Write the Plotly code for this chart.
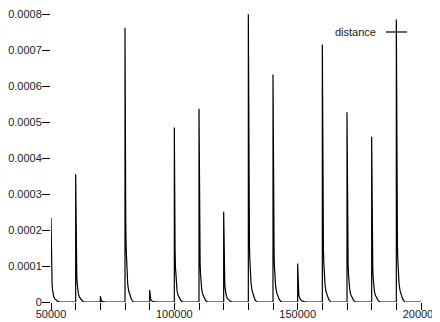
import plotly.graph_objects as go

# Spike positions and peak heights
spike_x = [50000, 60000, 70000, 80000, 90000, 100000, 110000, 120000,
           130000, 140000, 150000, 160000, 170000, 180000, 190000]
spike_peak = [0.000233, 0.000355, 0.000016, 0.000762, 0.000033, 0.000485,
              0.000537, 0.000251, 0.000799, 0.000632, 0.000107, 0.000715,
              0.000527, 0.000459, 0.000785]

# Shape of the decay after each spike (offset from spike, fraction of peak)
decay_offset = [0, 100, 200, 300, 450, 600, 800, 1100, 1500, 2000, 2600, 3400]
decay_fraction = [1.0, 0.62, 0.42, 0.30, 0.20, 0.15, 0.10, 0.065, 0.04, 0.022, 0.01, 0.0]

x_end = 200000

y_tickvals = [0, 0.0001, 0.0002, 0.0003, 0.0004, 0.0005, 0.0006, 0.0007, 0.0008]
y_ticktext = ["0", "0.0001", "0.0002", "0.0003", "0.0004", "0.0005", "0.0006", "0.0007", "0.0008"]
x_tickvals = [50000, 100000, 150000, 200000]
x_ticktext = ["50000", "100000", "150000", "200000"]

xs, ys = [], []
for i, (sx, pk) in enumerate(zip(spike_x, spike_peak)):
    if i > 0:
        xs.append(sx)
        ys.append(0.0)
    for off, fr in zip(decay_offset, decay_fraction):
        xs.append(sx + off)
        ys.append(pk * fr)
xs.append(x_end)
ys.append(0.0)

FONT = "Liberation Sans, Arial, sans-serif"

fig = go.Figure()
fig.add_trace(go.Scatter(x=xs, y=ys, mode="lines", name="distance",
                         line=dict(color="black", width=1.2), showlegend=False,
                         cliponaxis=False))

# page body has an 8px margin, so the figure is 8px smaller and margins shifted
fig.update_layout(
    width=432, height=314,
    margin=dict(l=43, r=19, t=6, b=20, autoexpand=False),
    paper_bgcolor="white", plot_bgcolor="white",
    font=dict(family=FONT, size=11, color="#222"),
    xaxis=dict(range=[50000, 200000], showgrid=False, zeroline=False, showline=False,
               automargin=False, ticklabeloverflow="allow",
               tickvals=x_tickvals, ticktext=x_ticktext,
               ticks="outside", ticklen=7, tickcolor="black", tickwidth=1,
               minor=dict(dtick=10000, tick0=50000, ticks="outside", ticklen=7,
                          tickcolor="black", tickwidth=1, showgrid=False),
               ticklabelstandoff=-5),
    yaxis=dict(range=[0, 0.0008], showgrid=False, zeroline=False, showline=False,
               automargin=False, ticklabeloverflow="allow",
               tickvals=y_tickvals, ticktext=y_ticktext,
               ticks="outside", ticklen=8, tickcolor="black", tickwidth=1,
               ticklabelstandoff=-2),
)

fig.add_annotation(xref="paper", yref="paper", x=0.884, y=0.9375,
                   text="distance", showarrow=False, xanchor="right", yanchor="middle",
                   font=dict(family=FONT, size=11, color="#222"))
fig.add_shape(type="line", xref="paper", yref="paper", x0=0.905, x1=0.962,
              y0=0.9375, y1=0.9375, line=dict(color="black", width=1.2))

fig.write_html("out.html")
